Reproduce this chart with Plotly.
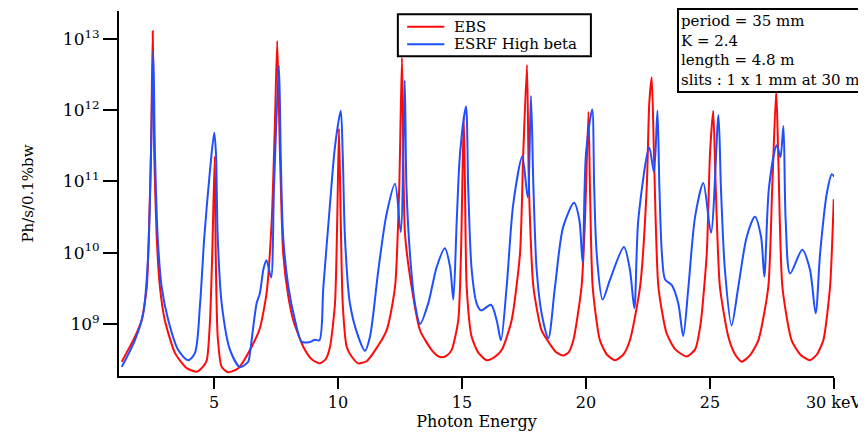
import plotly.graph_objects as go

# photon energy (keV) and flux (ph/s/0.1%bw)
ebs_energy = [1.28, 1.81, 2.08, 2.29, 2.39, 2.46, 2.53, 2.59, 2.69, 2.82, 3.02, 3.43, 3.90, 4.30,
              4.55, 4.71, 4.84, 4.93, 5.03, 5.07, 5.15, 5.31, 5.58, 5.98, 6.52, 6.85, 7.12, 7.33,
              7.46, 7.55, 7.66, 7.79, 8.00, 8.20, 8.60, 8.94, 9.27, 9.50, 9.68, 9.88, 9.97, 10.04,
              10.11, 10.19, 10.35, 10.55, 10.82, 11.15, 11.42, 11.96, 12.30, 12.47, 12.58, 12.70,
              12.97, 13.31, 13.78, 14.00, 14.18, 14.38, 14.58, 14.85, 14.96, 15.07, 15.12, 15.19,
              15.39, 15.65, 16.00, 16.30, 16.60, 17.00, 17.34, 17.47, 17.62, 17.70, 17.88, 18.21,
              18.55, 18.80, 19.08, 19.30, 19.49, 19.82, 19.96, 20.10, 20.16, 20.27, 20.56, 20.85,
              21.17, 21.50, 21.77, 22.18, 22.45, 22.55, 22.65, 22.74, 22.92, 23.25, 23.60, 24.06,
              24.40, 24.62, 24.87, 25.00, 25.13, 25.23, 25.40, 25.74, 26.00, 26.28, 26.60, 26.95,
              27.35, 27.51, 27.67, 27.75, 27.92, 28.29, 28.65, 29.03, 29.30, 29.57, 29.84, 29.99]
ebs_flux = [2.95e8, 6.6e8, 1.12e9, 3.3e9, 2.9e10, 2.45e11, 1.29e13, 2.45e11, 1.66e10, 3.3e9, 1.12e9,
            3.9e8, 2.4e8, 2.14e8, 2.5e8, 3.1e8, 1.12e9, 9.8e9, 2.24e11, 9.8e9, 6.6e8, 2.5e8, 2.1e8,
            2.4e8, 4.8e8, 8.7e8, 2.7e9, 2.9e10, 7.2e11, 9.3e12, 2.45e11, 9.8e9, 2.4e9, 1.12e9,
            4.8e8, 3.2e8, 2.8e8, 3.2e8, 4.8e8, 1.95e9, 2.9e10, 5.5e11, 2.9e10, 1.95e9, 4.8e8,
            3.5e8, 2.8e8, 3.0e8, 3.9e8, 8.1e8, 3.3e9, 8.3e10, 5.4e12, 1.86e10, 3.3e9, 8.1e8,
            4.3e8, 3.6e8, 3.4e8, 3.6e8, 4.3e8, 1.12e9, 9.8e9, 8.1e11, 8.3e10, 3.3e9, 6.6e8, 4.0e8,
            3.1e8, 3.4e8, 4.3e8, 1.12e9, 9.8e9, 2.45e11, 4.3e12, 8.3e10, 3.3e9, 8.1e8, 5.2e8,
            4.0e8, 3.6e8, 4.0e8, 5.9e8, 3.3e9, 2.9e10, 9.5e11, 8.3e10, 3.3e9, 5.9e8, 3.7e8, 3.1e8,
            3.7e8, 5.9e8, 3.3e9, 8.3e10, 1.23e12, 2.9e12, 2.45e11, 3.3e9, 7.4e8, 4.4e8, 3.5e8,
            4.4e8, 1.0e9, 9.8e9, 2.45e11, 9.8e11, 8.3e10, 3.3e9, 6.6e8, 3.8e8, 2.95e8, 3.6e8,
            5.9e8, 3.3e9, 8.3e10, 1.95e12, 2.45e11, 3.3e9, 5.9e8, 3.7e8, 3.1e8, 3.7e8, 5.9e8,
            3.3e9, 5.6e10]

esrf_energy = [1.28, 1.81, 2.15, 2.35, 2.46, 2.55, 2.62, 2.73, 2.89, 3.16, 3.56, 3.96, 4.23, 4.44,
               4.61, 4.84, 5.01, 5.08, 5.15, 5.31, 5.65, 6.05, 6.38, 6.45, 6.72, 6.85, 7.00, 7.12,
               7.30, 7.42, 7.62, 7.69, 7.79, 8.00, 8.27, 8.54, 8.87, 9.07, 9.25, 9.41, 9.68, 9.88,
               10.11, 10.19, 10.28, 10.48, 10.82, 11.09, 11.29, 11.63, 11.96, 12.30, 12.53, 12.69,
               12.76, 12.90, 13.10, 13.31, 13.64, 13.98, 14.31, 14.52, 14.65, 14.79, 14.92, 15.16,
               15.25, 15.39, 15.59, 15.77, 16.17, 16.40, 16.57, 16.80, 17.07, 17.43, 17.65, 17.78,
               17.88, 18.01, 18.21, 18.48, 18.75, 19.08, 19.52, 19.73, 19.86, 20.00, 20.25, 20.33,
               20.43, 20.67, 20.97, 21.53, 21.77, 21.95, 22.11, 22.55, 22.74, 22.88, 22.96, 23.06,
               23.19, 23.46, 23.72, 23.92, 24.13, 24.40, 24.73, 25.04, 25.34, 25.44, 25.60, 25.87,
               26.14, 26.48, 26.81, 27.06, 27.19, 27.38, 27.69, 27.84, 27.96, 28.05, 28.23, 28.72,
               29.03, 29.26, 29.44, 29.71, 29.91, 30.02]
esrf_flux = [2.5e8, 5.9e8, 1.41e9, 9.8e9, 2.45e11, 6.9e12, 2.45e11, 1.66e10, 3.3e9, 1.12e9, 4.3e8,
             3.1e8, 3.9e8, 1.95e9, 1.66e10, 1.45e11, 4.8e11, 2.45e11, 1.66e10, 1.95e9, 4.3e8,
             2.5e8, 2.95e8, 3.9e8, 1.95e9, 2.7e9, 6.0e9, 7.8e9, 4.5e9, 8.3e10, 4.2e12, 2.45e11,
             1.66e10, 3.3e9, 1.12e9, 5.6e8, 5.6e8, 6.0e8, 5.9e8, 3.3e9, 4.9e10, 3.1e11, 9.8e11,
             2.45e11, 1.66e10, 1.95e9, 6.6e8, 4.2e8, 6.6e8, 5.8e9, 3.5e10, 9.3e10, 1.95e10,
             2.6e12, 8.3e10, 9.8e9, 1.95e9, 1.0e9, 1.95e9, 6.3e9, 1.15e10, 6.3e9, 2.2e9, 2.9e10,
             2.45e11, 1.12e12, 8.3e10, 5.8e9, 1.95e9, 1.55e9, 1.86e9, 1.12e9, 5.9e8, 3.3e9,
             4.9e10, 2.24e11, 6.0e10, 1.58e12, 8.3e10, 5.8e9, 1.41e9, 6.3e8, 3.3e9, 2.3e10,
             5.0e10, 2.9e10, 7.4e9, 2.45e11, 1.02e12, 8.3e10, 9.8e9, 2.2e9, 4.2e9, 1.2e10, 5.8e9,
             1.66e9, 2.9e10, 3.0e11, 1.35e11, 9.8e11, 8.3e10, 9.8e9, 4.2e9, 3.5e9, 1.95e9, 6.8e8,
             3.3e9, 3.2e10, 9.5e10, 1.9e10, 8.5e11, 8.3e10, 5.8e9, 9.5e8, 3.3e9, 1.66e10, 3.2e10,
             1.66e10, 4.6e9, 8.3e10, 3.2e11, 2.2e11, 6.0e11, 2.9e10, 5.1e9, 1.1e10, 5.8e9, 1.41e9,
             9.8e9, 6.8e10, 1.26e11, 1.15e11]

series_names = ["EBS", "ESRF High beta"]
series_colors = ["#ff0a0a", "#1f4fff"]

x_ticks = [5, 10, 15, 20, 25, 30]
x_ticktext = ["5", "10", "15", "20", "25", "30 keV"]
y_ticks = [1e9, 1e10, 1e11, 1e12, 1e13]
y_ticktext = ["10<sup>9</sup>", "10<sup>10</sup>", "10<sup>11</sup>", "10<sup>12</sup>", "10<sup>13</sup>"]

info_lines = ["period = 35 mm", "K = 2.4", "length = 4.8 m", "slits : 1 x 1 mm at 30 m"]

serif = "DejaVu Serif"

fig = go.Figure()
fig.add_trace(go.Scatter(x=ebs_energy, y=ebs_flux, mode="lines", name=series_names[0],
                         line=dict(color=series_colors[0], width=2, shape="spline", smoothing=0.6)))
fig.add_trace(go.Scatter(x=esrf_energy, y=esrf_flux, mode="lines", name=series_names[1],
                         line=dict(color=series_colors[1], width=2, shape="spline", smoothing=0.8)))

# boxed legend drawn by hand so that it stays as compact as the original one
fig.add_shape(type="rect", xref="paper", yref="paper", x0=0.390, x1=0.660, y0=0.876, y1=0.991,
              line=dict(color="black", width=2), fillcolor="white", layer="above")
legend_rows = [0.957, 0.909]
for name, color, yrow in zip(series_names, series_colors, legend_rows):
    fig.add_shape(type="line", xref="paper", yref="paper", x0=0.403, x1=0.455, y0=yrow, y1=yrow,
                  line=dict(color=color, width=2), layer="above")
    fig.add_annotation(text=name, xref="paper", yref="paper", x=0.466, y=yrow,
                       xanchor="left", yanchor="middle", showarrow=False,
                       font=dict(family=serif, size=15, color="black"))

fig.add_annotation(
    text="<br>".join(info_lines),
    xref="paper", yref="paper", x=1.042, y=1.007, xanchor="right", yanchor="top",
    align="left", showarrow=False,
    font=dict(family=serif, size=15, color="black"),
    bordercolor="black", borderwidth=2, borderpad=2, bgcolor="white",
)

# the page puts the figure 8 px in from the window corner
fig.update_layout(
    width=858,
    height=427,
    margin=dict(l=111, r=32, t=3, b=59, autoexpand=False),
    paper_bgcolor="white",
    plot_bgcolor="white",
    font=dict(family=serif, size=16, color="black"),
    showlegend=False,
    xaxis=dict(
        range=[1.17, 30], showgrid=False, zeroline=False, automargin=False,
        showline=True, linecolor="black", linewidth=2,
        ticks="outside", ticklen=11, tickwidth=2, tickcolor="black",
        tickvals=x_ticks, ticktext=x_ticktext,
        tickfont=dict(family=serif, size=16),
        title=dict(text="Photon Energy", font=dict(family=serif, size=16), standoff=4),
    ),
    yaxis=dict(
        type="log", range=[8.27, 13.39], showgrid=False, zeroline=False, automargin=False,
        showline=True, linecolor="black", linewidth=2,
        ticks="outside", ticklen=14, tickwidth=2, tickcolor="black",
        tickvals=y_ticks, ticktext=y_ticktext,
        tickfont=dict(family=serif, size=17),
        title=dict(text="Ph/s/0.1%bw", font=dict(family=serif, size=15), standoff=26),
    ),
)

fig.write_html("out.html")
